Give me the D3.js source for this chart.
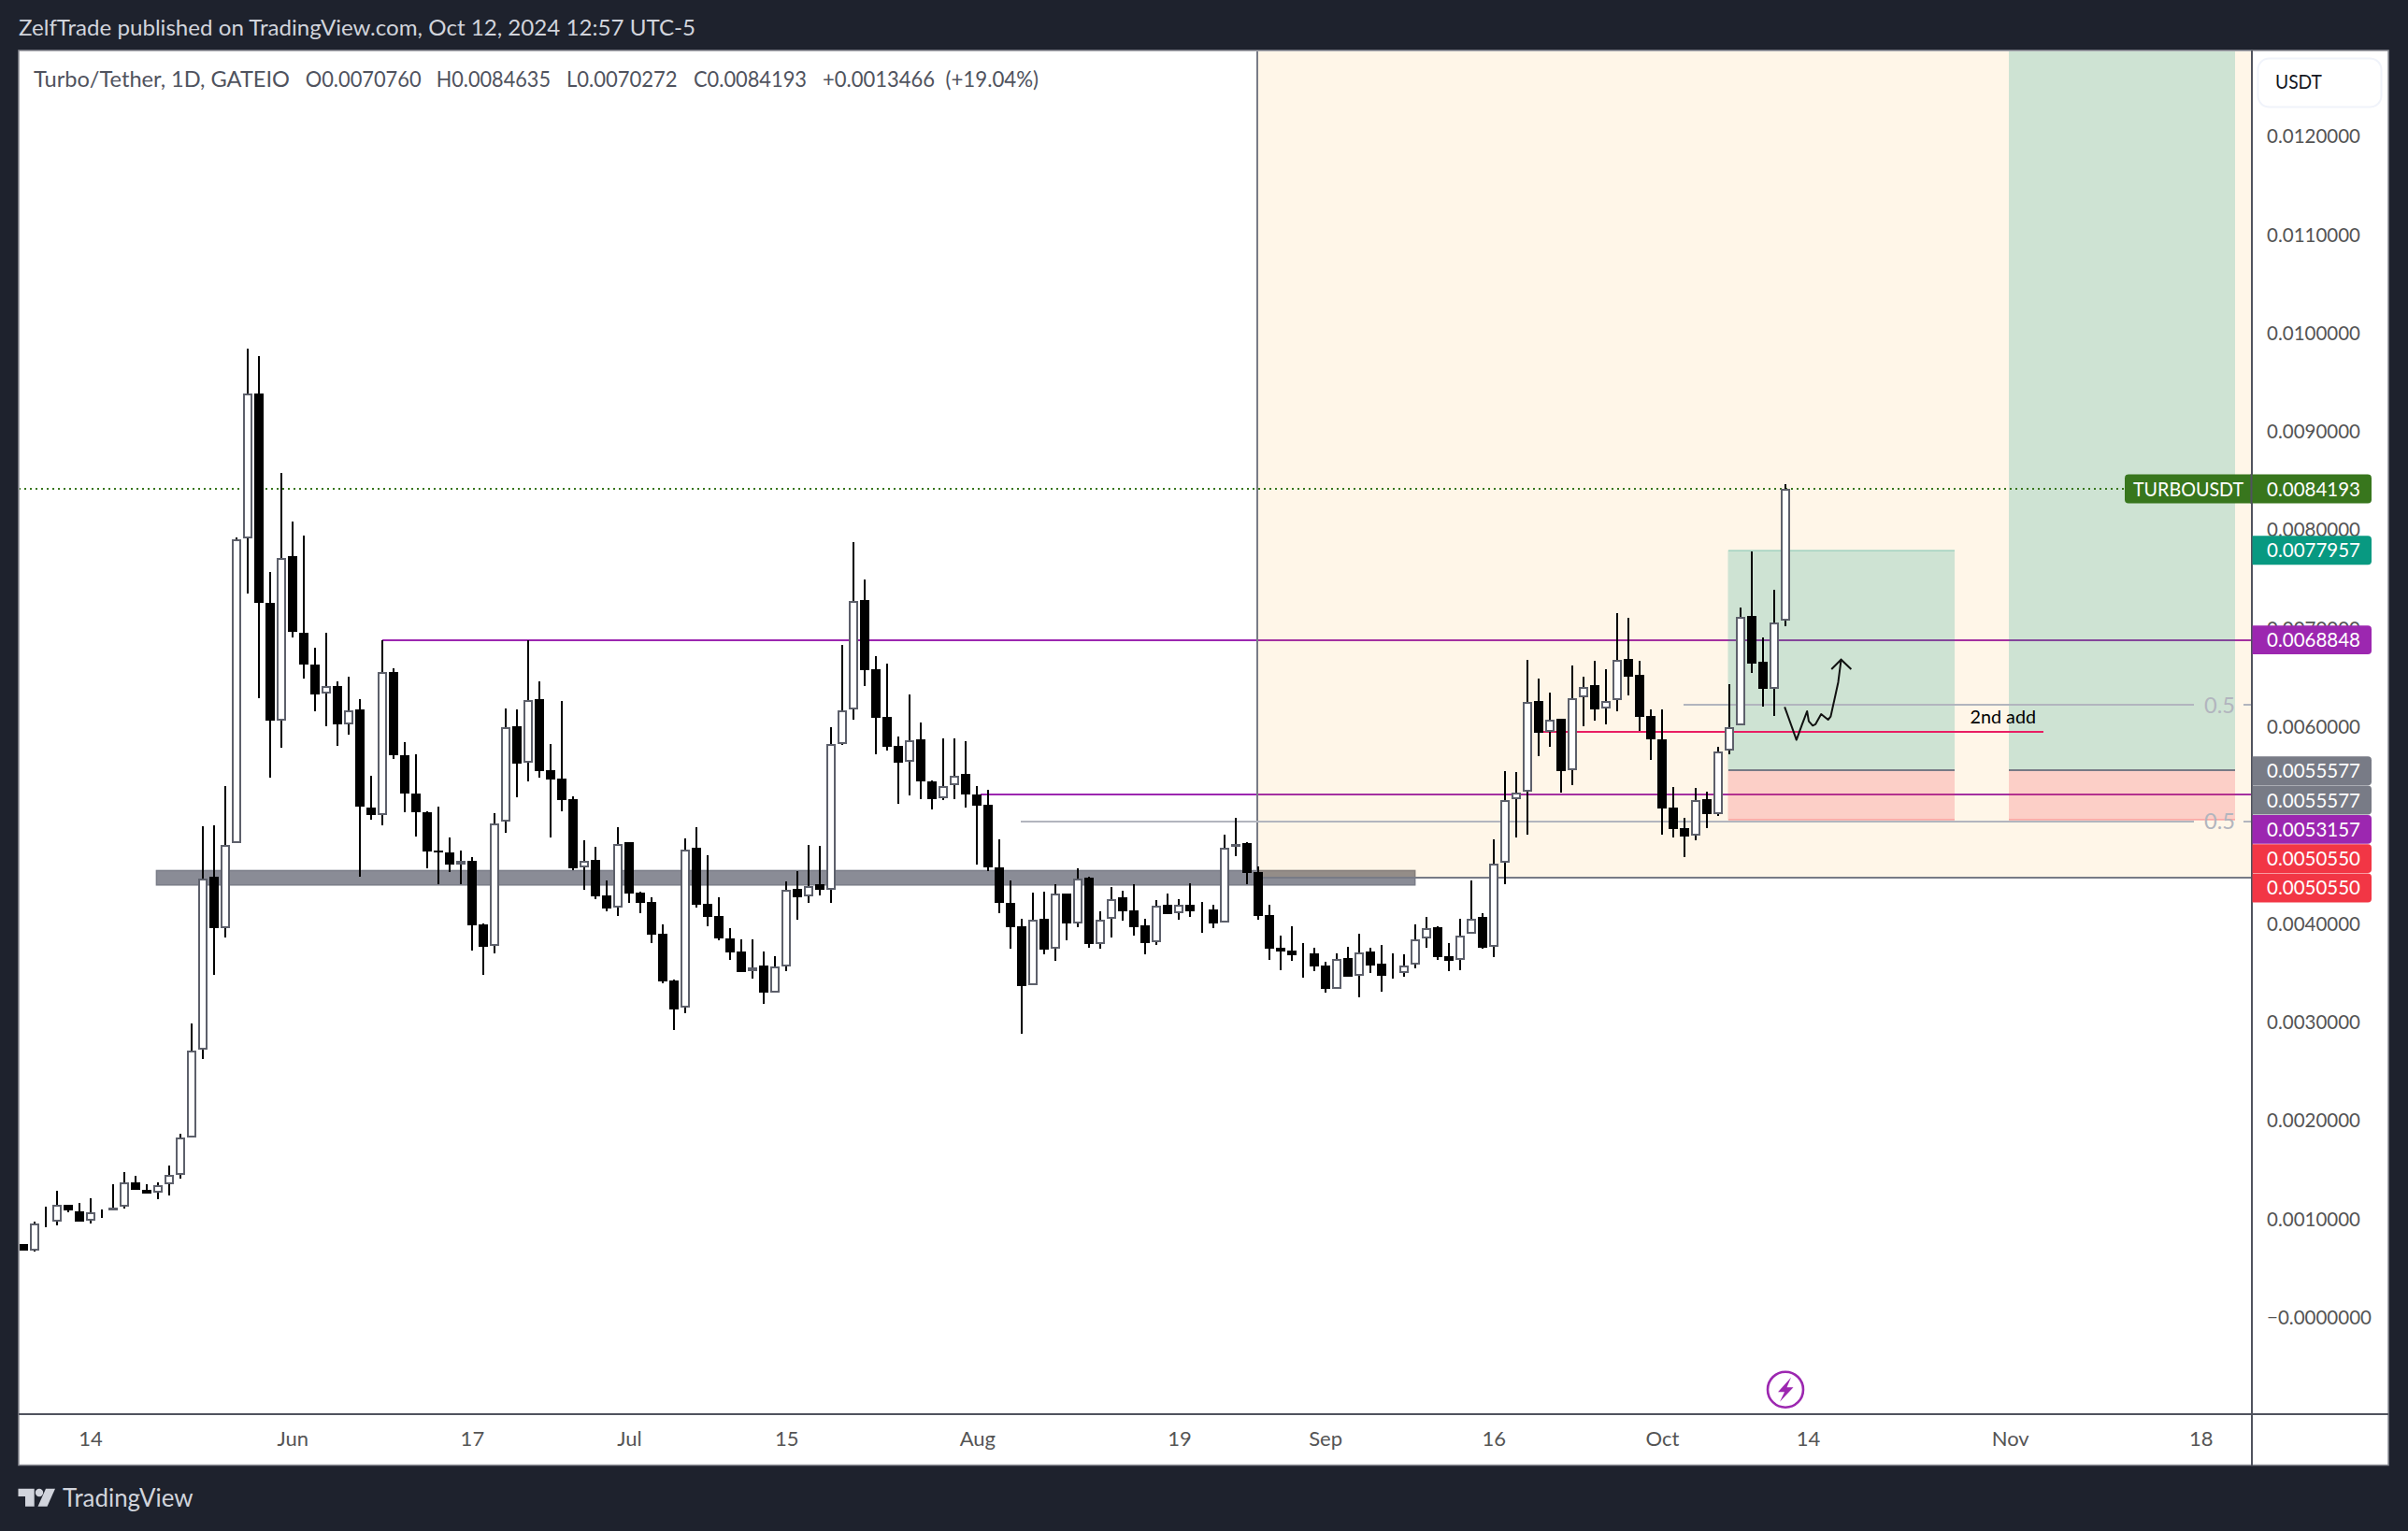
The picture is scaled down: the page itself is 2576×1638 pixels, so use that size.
<!DOCTYPE html>
<html><head><meta charset="utf-8">
<script src="https://cdn.jsdelivr.net/npm/d3@7/dist/d3.min.js"></script>
<style>html,body{margin:0;padding:0;background:#1e222d;overflow:hidden}svg{display:block}text{font-family:Lato,"Open Sans",sans-serif}</style>
</head><body><div id="chart"></div>
<script>
// ---- daily candles, 2024-05-08 .. 2024-10-12, TURBO/USDT
const opens=[0.000746,0.000683,0.000979,0.000979,0.001143,0.001080,0.000985,0.001086,0.001092,0.001124,
0.001376,0.001300,0.001269,0.001357,0.001451,0.001829,0.002718,0.004475,0.003953,0.004816,
0.007921,0.009389,0.007260,0.006063,0.007739,0.006958,0.006636,0.006340,0.006416,0.006031,
0.006176,0.005181,0.005105,0.006561,0.005716,0.005320,0.005131,0.004740,0.004724,0.004605,
0.004639,0.003995,0.003774,0.005039,0.006006,0.005633,0.006284,0.005558,0.005473,0.005266,
0.004575,0.004649,0.004290,0.004161,0.004829,0.004317,0.004222,0.003900,0.003425,0.003147,
0.004771,0.004201,0.004079,0.003852,0.003720,0.003520,0.003577,0.003303,0.003571,0.004354,
0.004283,0.004402,0.004344,0.005829,0.006179,0.007288,0.006586,0.006101,0.005809,0.005643,
0.005874,0.005446,0.005273,0.005406,0.005524,0.005314,0.005209,0.004575,0.004212,0.003974,
0.003377,0.004052,0.003744,0.004307,0.004005,0.004469,0.003791,0.004049,0.004269,0.004134,
0.003984,0.003811,0.004195,0.004107,0.004191,0.004143,0.004144,0.004012,0.004778,0.004819,
0.004527,0.004090,0.003757,0.003727,0.003695,0.003700,0.003574,0.003337,0.003652,0.003469,
0.003720,0.003594,0.003495,0.003499,0.003588,0.003855,0.003964,0.003672,0.003635,0.003900,
0.004067,0.003763,0.004618,0.005264,0.005343,0.006264,0.005951,0.006084,0.005562,0.006302,
0.006423,0.006188,0.006274,0.006689,0.006527,0.006109,0.005872,0.005179,0.004970,0.004897,
0.005264,0.005115,0.005764,0.006017,0.007125,0.006663,0.006390,0.007076];
const highs=[0.000746,0.000973,0.001124,0.001288,0.001149,0.001162,0.001212,0.001099,0.001351,0.001477,
0.001439,0.001357,0.001376,0.001546,0.001867,0.002989,0.004992,0.004998,0.005401,0.007928,
0.009843,0.009767,0.007575,0.008583,0.008085,0.007947,0.006806,0.006958,0.006466,0.006510,
0.006283,0.005502,0.006882,0.006598,0.005849,0.005723,0.005143,0.005187,0.004876,0.004744,
0.004676,0.004005,0.005124,0.006189,0.006179,0.006881,0.006464,0.005826,0.006264,0.005294,
0.004849,0.004781,0.004439,0.004982,0.004829,0.004324,0.004269,0.003995,0.003435,0.004866,
0.004982,0.004697,0.004269,0.003957,0.003842,0.003842,0.003720,0.003672,0.004432,0.004534,
0.004798,0.004788,0.005999,0.006833,0.007878,0.007498,0.006718,0.006643,0.005904,0.006331,
0.006047,0.005456,0.005884,0.005884,0.005857,0.005399,0.005361,0.004859,0.004439,0.004052,
0.004317,0.004327,0.004402,0.004307,0.004561,0.004480,0.004127,0.004374,0.004337,0.004402,
0.004052,0.004239,0.004307,0.004249,0.004408,0.004218,0.004195,0.004907,0.005077,0.004829,
0.004581,0.004195,0.003879,0.003974,0.003805,0.003757,0.003611,0.003700,0.003767,0.003896,
0.003754,0.003784,0.003700,0.003689,0.003991,0.004069,0.003974,0.003801,0.004049,0.004439,
0.004105,0.004859,0.005552,0.005543,0.006682,0.006492,0.006350,0.006084,0.006625,0.006511,
0.006673,0.006587,0.007157,0.007106,0.006673,0.006179,0.006179,0.005391,0.005077,0.005381,
0.005343,0.005796,0.006435,0.007213,0.007783,0.006910,0.007394,0.008464];
const lows=[0.000683,0.000670,0.000916,0.000935,0.001073,0.000973,0.000954,0.001017,0.001086,0.001111,
0.001300,0.001256,0.001206,0.001243,0.001407,0.001829,0.002623,0.003486,0.003858,0.004816,
0.007354,0.006296,0.005483,0.005792,0.006907,0.006491,0.006164,0.006006,0.005805,0.005918,
0.004482,0.005055,0.005005,0.005679,0.005137,0.004885,0.004564,0.004406,0.004527,0.004405,
0.003730,0.003486,0.003703,0.004924,0.005287,0.005450,0.005487,0.004880,0.005148,0.004547,
0.004341,0.004252,0.004130,0.004083,0.004212,0.004110,0.003808,0.003394,0.002923,0.003096,
0.004168,0.003978,0.003832,0.003632,0.003510,0.003442,0.003191,0.003303,0.003523,0.004042,
0.004215,0.004293,0.004215,0.005819,0.006077,0.006420,0.005718,0.005762,0.005222,0.005307,
0.005270,0.005165,0.005260,0.005270,0.005185,0.004605,0.004537,0.004110,0.003751,0.002879,
0.003377,0.003693,0.003628,0.003832,0.003964,0.003757,0.003751,0.003862,0.004032,0.003879,
0.003693,0.003788,0.004103,0.004045,0.004073,0.003913,0.003961,0.004012,0.004687,0.004402,
0.004045,0.003635,0.003530,0.003625,0.003452,0.003523,0.003303,0.003337,0.003462,0.003255,
0.003503,0.003310,0.003442,0.003465,0.003550,0.003761,0.003635,0.003520,0.003533,0.003900,
0.003748,0.003665,0.004406,0.004878,0.004906,0.005704,0.005799,0.005334,0.005410,0.006008,
0.006068,0.006027,0.006163,0.006321,0.005957,0.005669,0.004909,0.004881,0.004682,0.004852,
0.004976,0.005093,0.005726,0.006017,0.006549,0.006207,0.006112,0.007027];
const closes=[0.000683,0.000960,0.000985,0.001143,0.001086,0.000979,0.001067,0.001092,0.001118,0.001376,
0.001300,0.001262,0.001344,0.001445,0.001829,0.002711,0.004456,0.003959,0.004803,0.007909,
0.009389,0.007260,0.006063,0.007720,0.006964,0.006630,0.006334,0.006416,0.006025,0.006170,
0.005187,0.005105,0.006561,0.005716,0.005320,0.005131,0.004734,0.004734,0.004602,0.004636,
0.003988,0.003771,0.005022,0.005999,0.005629,0.006277,0.005551,0.005467,0.005260,0.004568,
0.004642,0.004279,0.004154,0.004812,0.004310,0.004215,0.003893,0.003415,0.003133,0.004758,
0.004191,0.004069,0.003852,0.003710,0.003510,0.003560,0.003299,0.003571,0.004341,0.004269,
0.004385,0.004344,0.005829,0.006172,0.007281,0.006576,0.006097,0.005799,0.005640,0.005867,
0.005450,0.005266,0.005402,0.005507,0.005317,0.005202,0.004578,0.004215,0.003967,0.003371,
0.004045,0.003740,0.004310,0.004008,0.004463,0.003794,0.004045,0.004252,0.004130,0.003967,
0.003808,0.004188,0.004103,0.004195,0.004130,0.004150,0.004008,0.004775,0.004812,0.004517,
0.004079,0.003747,0.003720,0.003679,0.003703,0.003567,0.003340,0.003645,0.003462,0.003713,
0.003577,0.003472,0.003503,0.003577,0.003845,0.003957,0.003662,0.003628,0.003883,0.004052,
0.003760,0.004615,0.005261,0.005337,0.006258,0.005945,0.006078,0.005555,0.006296,0.006407,
0.006182,0.006268,0.006682,0.006514,0.006106,0.005878,0.005175,0.004966,0.004891,0.005258,
0.005118,0.005755,0.006002,0.007122,0.006644,0.006387,0.007065,0.008419];

const priceTicks=[0,0.001,0.002,0.003,0.004,0.005,0.006,0.007,0.008,0.009,0.010,0.011,0.012];
const timeTickDays=[6,24,40,54,68,85,103,116,131,146,159,177,194];
const timeTickLabels=["14","Jun","17","Jul","15","Aug","19","Sep","16","Oct","14","Nov","18"];
const legendParts=["Turbo/Tether, 1D, GATEIO","O0.0070760","H0.0084635","L0.0070272","C0.0084193","+0.0013466","(+19.04%)"];
const legendStarts=[36,326.7,466.7,606,742,880,1011.5];
const legendEnds=[310,450.6,589,724.6,863,1000,1111];

// ---- drawing annotations (day offset from 8 May / price)
const lastPrice=0.0084193, target=0.0077957, resistance=0.0068848, entry=0.0055577, support=0.0053157, stop=0.0050550;
const tagPrices=[entry,entry,support,stop,stop];
const tagColors=["#787b86","#787b86","#9c27b0","#f23645","#f23645"];
const tagTexts=["0.0055577","0.0055577","0.0053157","0.0050550","0.0050550"];
const zoneDays=[11.9,124];
const zonePrices=[0.004541,0.004395];
const rangeStartDay=109.95, rangeBottom=0.00447;
const tool1Days=[151.88,172.07], tool2Days=[176.9,197.05], tool2Top=0.0135;
const fibA=[88.9,0.005039], fibB=[147.96,0.006226];
const addLine=[135.35,180.0,0.00595];
const sketchDays=[156.93,157.59,157.98,158.49,158.93,159.08,159.43,159.67,160.18,160.8,161.03,161.46,161.7,161.96];
const sketchPrices=[0.006204,0.005995,0.005869,0.006027,0.00616,0.006059,0.006014,0.006027,0.006131,0.006074,0.006106,0.006328,0.006454,0.006685];
const arrowDays=[161.1,161.96,162.86];
const arrowPrices=[0.006587,0.006685,0.006587];

const W=2576,H=1638,L=20,T=54,AX=2408.5,TB=1513,R=2555,B=1567.5;
const start=Date.UTC(2024,4,8);
const day=i=>new Date(start+i*864e5);
const x=d3.scaleUtc().domain([day(0),day(157)]).range([24.5,1910]);
const y=d3.scaleLinear().domain([0,0.012]).range([1409.6,146]);
const X=i=>x(day(i));

const svg=d3.select("#chart").append("svg").attr("width",W).attr("height",H).attr("viewBox",`0 0 ${W} ${H}`);
svg.append("rect").attr("width",W).attr("height",H).attr("fill","#1e222d");
svg.append("rect").attr("x",L).attr("y",T).attr("width",R-L).attr("height",B-T).attr("fill","#fff").attr("stroke","#8a8c94").attr("stroke-width",1.5);
svg.append("clipPath").attr("id","plot").append("rect").attr("x",L+1).attr("y",T+1).attr("width",AX-L-1).attr("height",TB-T-1);
const g=svg.append("g").attr("clip-path","url(#plot)");
const hline=(sel,x1,x2,yy,c,w)=>sel.append("line").attr("x1",x1).attr("x2",x2).attr("y1",yy).attr("y2",yy).attr("stroke",c).attr("stroke-width",w).attr("shape-rendering","crispEdges");

// grey zone
g.append("rect").attr("x",X(zoneDays[0])).attr("y",y(zonePrices[0])).attr("width",X(zoneDays[1])-X(zoneDays[0])).attr("height",y(zonePrices[1])-y(zonePrices[0])).attr("fill","#8a8c96").attr("stroke","#7a7d88").attr("stroke-width",1.5);
// purple levels
hline(g,X(32),AX,y(resistance),"#9c27b0",2);
hline(g,X(85.3),AX,y(support),"#9c27b0",2);
// date range shading
g.append("rect").attr("x",X(rangeStartDay)).attr("y",T).attr("width",AX-X(rangeStartDay)).attr("height",y(rangeBottom)-T).attr("fill","rgba(255,152,0,0.09)");
g.append("line").attr("x1",X(rangeStartDay)).attr("x2",X(rangeStartDay)).attr("y1",T).attr("y2",y(rangeBottom)).attr("stroke","#787b86").attr("stroke-width",2).attr("shape-rendering","crispEdges");
hline(g,X(rangeStartDay),AX,y(rangeBottom),"#787b86",2);
// long position tools
[[tool1Days,target],[tool2Days,tool2Top]].forEach(([d,tp])=>{
  const x0=X(d[0]),w=X(d[1])-x0;
  g.append("rect").attr("x",x0).attr("y",y(tp)).attr("width",w).attr("height",y(entry)-y(tp)).attr("fill","rgba(8,153,129,0.2)");
  g.append("rect").attr("x",x0).attr("y",y(entry)).attr("width",w).attr("height",y(stop)-y(entry)).attr("fill","rgba(242,54,69,0.2)");
  hline(g,x0,x0+w,y(tp),"rgba(8,153,129,0.2)",2);
  hline(g,x0,x0+w,y(stop),"rgba(242,54,69,0.25)",2);
  hline(g,x0,x0+w,y(entry),"#787b86",2);
});
// fib lines with 0.5 labels
[fibA,fibB].forEach(([d,p])=>{
  hline(g,X(d),X(193.4),y(p),"#b2b5be",2);
  hline(g,X(197.8),AX,y(p),"#b2b5be",2);
  g.append("text").attr("x",2358).attr("y",y(p)+8.5).attr("font-size",24).attr("fill","#b2b5be").attr("textLength",33).attr("lengthAdjust","spacingAndGlyphs").text("0.5");
});
// 2nd add
hline(g,X(addLine[0]),X(addLine[1]),y(addLine[2]),"#e91e63",2);
g.append("text").attr("x",2107.5).attr("y",y(addLine[2])-9).attr("font-size",19).attr("fill","#000").attr("textLength",70.5).attr("lengthAdjust","spacingAndGlyphs").text("2nd add");
// last price dotted
g.append("line").attr("x1",L).attr("x2",2273).attr("y1",y(lastPrice)).attr("y2",y(lastPrice)).attr("stroke","#38761d").attr("stroke-width",2).attr("stroke-dasharray","2 4").attr("shape-rendering","crispEdges");

// candles
const candles=opens.map((o,i)=>({i,o,h:highs[i],l:lows[i],c:closes[i]}));
const cg=g.append("g");
cg.selectAll("rect.wick").data(candles).join("rect").attr("class","wick")
  .attr("x",d=>Math.round(X(d.i))-1).attr("width",2).attr("y",d=>y(d.h)).attr("height",d=>Math.max(0,y(d.l)-y(d.h))).attr("fill","#000").attr("shape-rendering","crispEdges");
cg.selectAll("rect.down").data(candles.filter(d=>d.c<d.o)).join("rect").attr("class","down")
  .attr("x",d=>Math.round(X(d.i))-5).attr("width",10).attr("y",d=>y(d.o)).attr("height",d=>Math.max(1.5,y(d.c)-y(d.o))).attr("fill","#000").attr("shape-rendering","crispEdges");
cg.selectAll("rect.up").data(candles.filter(d=>d.c>=d.o)).join("rect").attr("class","up")
  .attr("x",d=>Math.round(X(d.i))-4).attr("width",8).attr("y",d=>y(d.c)+1).attr("height",d=>Math.max(0,y(d.o)-y(d.c)-2)).attr("fill","#fff").attr("stroke","#5d606b").attr("stroke-width",2).attr("shape-rendering","crispEdges");

// hand drawn sketch
const line=d3.line().x(d=>X(d[0])).y(d=>y(d[1])).curve(d3.curveLinear);
g.append("path").attr("d",line(sketchDays.map((d,i)=>[d,sketchPrices[i]]))).attr("fill","none").attr("stroke","#111").attr("stroke-width",2).attr("stroke-linejoin","round");
g.append("path").attr("d",line(arrowDays.map((d,i)=>[d,arrowPrices[i]]))).attr("fill","none").attr("stroke","#111").attr("stroke-width",2);

// lightning icon
const ic=svg.append("g").attr("transform",`translate(${X(157)},1486.7)`);
ic.append("circle").attr("r",19).attr("fill","#fff").attr("stroke","#9c27b0").attr("stroke-width",2.6);
ic.append("path").attr("d","M6,-13 L-8,2.5 L-1,2.5 L-6,13 L8.5,-2.5 L1.5,-2.5 Z").attr("fill","#9c27b0");

// separators
svg.append("line").attr("x1",AX).attr("x2",AX).attr("y1",T).attr("y2",B).attr("stroke","#50535e").attr("stroke-width",2).attr("shape-rendering","crispEdges").attr("class","sep");
svg.append("line").attr("x1",L).attr("x2",R).attr("y1",TB).attr("y2",TB).attr("stroke","#50535e").attr("stroke-width",2).attr("shape-rendering","crispEdges");

// price axis
const yAxis=d3.axisRight(y).tickValues(priceTicks).tickSize(0).tickPadding(0).tickFormat(v=>v===0?"\u22120.0000000":d3.format(".7f")(v));
const ya=svg.append("g").attr("transform","translate(2425,0)").call(yAxis);
ya.select(".domain").remove();
ya.selectAll("text").attr("font-size",21).attr("fill","#555").attr("font-family","Lato,sans-serif").attr("textLength",d=>d===0?112:100).attr("lengthAdjust","spacingAndGlyphs");

// time axis
const xAxis=d3.axisBottom(x).tickValues(timeTickDays.map(day)).tickSize(0).tickPadding(18).tickFormat((d,i)=>timeTickLabels[i]);
const xa=svg.append("g").attr("transform",`translate(0,${TB})`).call(xAxis);
xa.select(".domain").remove();
xa.selectAll("text").attr("font-size",22).attr("fill","#555").attr("font-family","Lato,sans-serif");

// price tags
const tagH=31.3;
const tag=(x0,x1,cy,fill,rl)=>{
  const t=cy-tagH/2+0.2,b=cy+tagH/2-0.2,r=4;
  const d=rl?`M${x0+r},${t}H${x1-r}Q${x1},${t} ${x1},${t+r}V${b-r}Q${x1},${b} ${x1-r},${b}H${x0+r}Q${x0},${b} ${x0},${b-r}V${t+r}Q${x0},${t} ${x0+r},${t}Z`
             :`M${x0},${t}H${x1-r}Q${x1},${t} ${x1},${t+r}V${b-r}Q${x1},${b} ${x1-r},${b}H${x0}Z`;
  svg.append("path").attr("d",d).attr("fill",fill);
};
const tagLabel=(xx,cy,txt,len)=>svg.append("text").attr("x",xx).attr("y",cy+7.5).attr("font-size",21).attr("fill","#fff").attr("textLength",len).attr("lengthAdjust","spacingAndGlyphs").text(txt);
tag(2409.5,2537,y(target),"#089981");tagLabel(2425,y(target),d3.format(".7f")(target),100);
tag(2409.5,2537,y(resistance),"#9c27b0");tagLabel(2425,y(resistance),d3.format(".7f")(resistance),100);
let prev=-1e9;
tagPrices.forEach((p,i)=>{const cy=Math.max(y(p)+0.4,prev+tagH);prev=cy;tag(2409.5,2537,cy,tagColors[i]);tagLabel(2425,cy,tagTexts[i],100);});
tag(2273,2537,y(lastPrice),"#38761d",true);
svg.append("line").attr("x1",AX).attr("x2",AX).attr("y1",y(lastPrice)-16).attr("y2",y(lastPrice)+16).attr("stroke","#50535e").attr("stroke-width",2);
tagLabel(2282,y(lastPrice),"TURBOUSDT",118);tagLabel(2425,y(lastPrice),d3.format(".7f")(lastPrice),100);

// USDT button
svg.append("rect").attr("x",2415.5).attr("y",62.5).attr("width",132).attr("height",52).attr("rx",12).attr("fill","#fff").attr("stroke","#f0f3fa").attr("stroke-width",2);
svg.append("text").attr("x",2434).attr("y",94.5).attr("font-size",22).attr("fill","#131722").attr("font-family","'Noto Sans',sans-serif").attr("textLength",50).attr("lengthAdjust","spacingAndGlyphs").text("USDT");

// header / legend / footer
svg.append("text").attr("x",20).attr("y",38).attr("font-size",23).attr("fill","#d1d4dc").attr("textLength",724).attr("lengthAdjust","spacingAndGlyphs").text("ZelfTrade published on TradingView.com, Oct 12, 2024 12:57 UTC-5");
legendParts.forEach((s,i)=>svg.append("text").attr("x",legendStarts[i]).attr("y",92.5).attr("font-size",23).attr("fill","#50535e").attr("textLength",legendEnds[i]-legendStarts[i]).attr("lengthAdjust","spacingAndGlyphs").text(s));
const logo=svg.append("g").attr("fill","#d1d4dc");
logo.append("path").attr("d","M19.5,1592.7H36.7V1611.7H27V1601H19.5Z");
logo.append("circle").attr("cx",42).attr("cy",1597).attr("r",4.2);
logo.append("path").attr("d","M49,1592.7H59L50.5,1611.7H40.5Z");
svg.append("text").attr("x",67).attr("y",1611.7).attr("font-size",26).attr("fill","#d1d4dc").attr("textLength",139.5).attr("lengthAdjust","spacingAndGlyphs").text("TradingView");
</script></body></html>
